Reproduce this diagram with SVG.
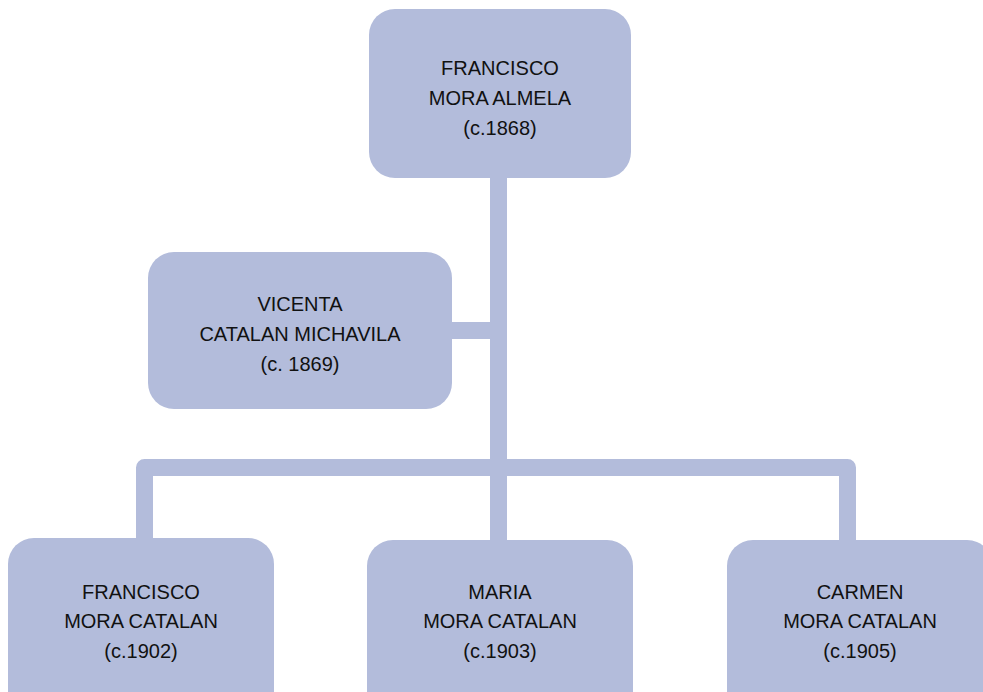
<svg xmlns="http://www.w3.org/2000/svg" width="983" height="692" viewBox="0 0 983 692">
<style>
.box{fill:#B3BCDB;}
.conn{fill:none;stroke:#B3BCDB;stroke-width:17;stroke-linejoin:round;}
text{font-family:"Liberation Sans",Arial,sans-serif;font-size:20px;fill:#111;text-anchor:middle;}
</style>
<rect width="983" height="692" fill="#fff"/>
<g id="connectors">
<path class="conn" d="M498.5 178 V540"/>
<path class="conn" d="M450 330.5 H498.5" style="stroke-linejoin:miter"/>
<path class="conn" d="M144.5 540 V467.5 H847.5 V542"/>
</g>
<g id="n-francisco-sr">
<rect class="box" x="369" y="9" width="262" height="169" rx="26"/>
<text x="500" y="75">FRANCISCO</text>
<text x="500" y="105">MORA ALMELA</text>
<text x="500" y="135">(c.1868)</text>
</g>
<g id="n-vicenta">
<rect class="box" x="148" y="252" width="304" height="157" rx="26"/>
<text x="300" y="311">VICENTA</text>
<text x="300" y="341">CATALAN MICHAVILA</text>
<text x="300" y="371">(c. 1869)</text>
</g>
<g id="n-francisco-jr">
<rect class="box" x="8" y="538" width="266" height="180" rx="26"/>
<text x="141" y="599">FRANCISCO</text>
<text x="141" y="628">MORA CATALAN</text>
<text x="141" y="658">(c.1902)</text>
</g>
<g id="n-maria">
<rect class="box" x="367" y="540" width="266" height="180" rx="26"/>
<text x="500" y="599">MARIA</text>
<text x="500" y="628">MORA CATALAN</text>
<text x="500" y="658">(c.1903)</text>
</g>
<g id="n-carmen">
<rect class="box" x="727" y="540" width="266" height="180" rx="26"/>
<text x="860" y="599">CARMEN</text>
<text x="860" y="628">MORA CATALAN</text>
<text x="860" y="658">(c.1905)</text>
</g>
</svg>
